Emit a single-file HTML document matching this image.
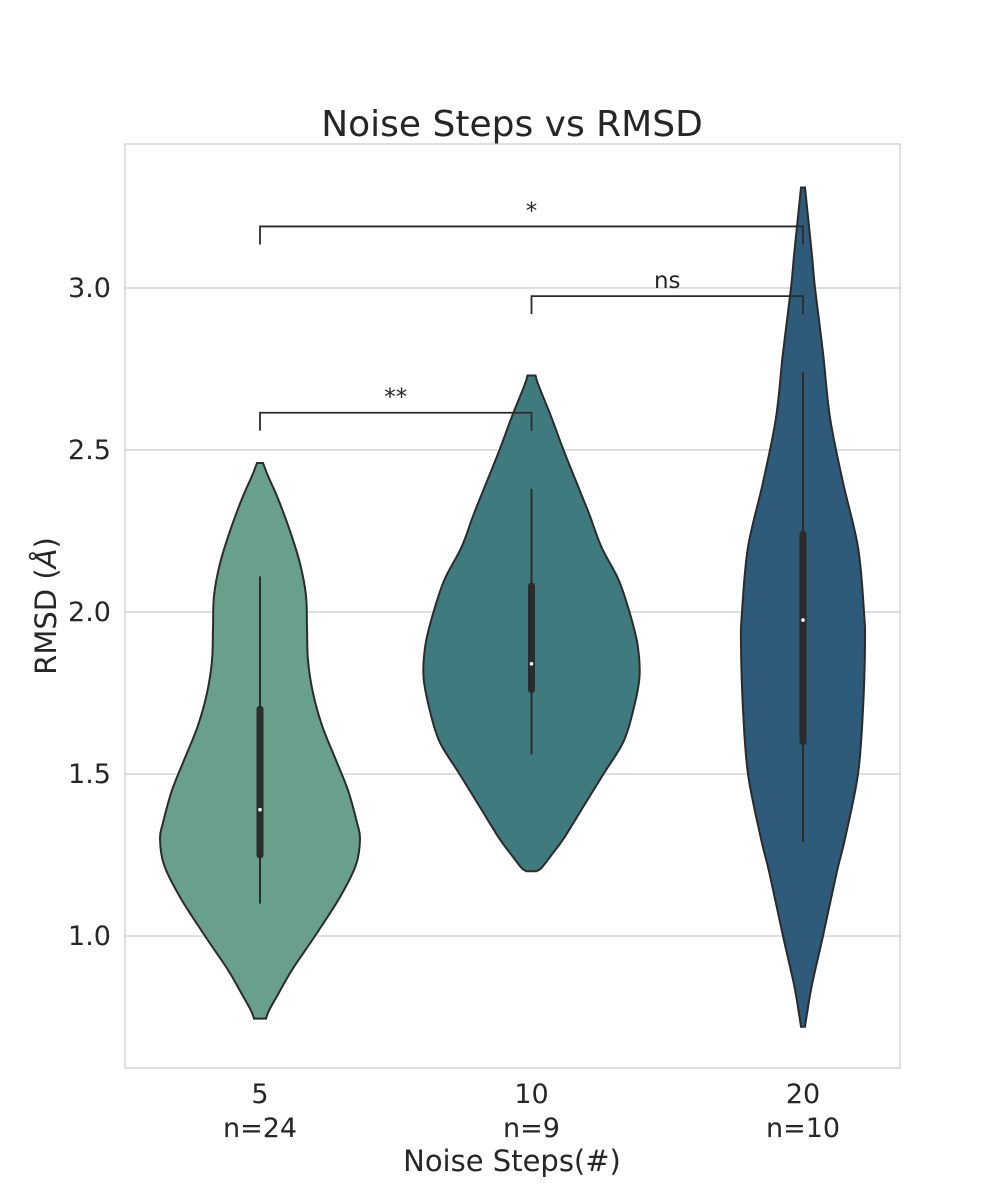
<!DOCTYPE html>
<html><head><meta charset="utf-8"><style>
body{margin:0;background:#fff;}
svg{display:block;font-family:"DejaVu Sans","Liberation Sans",sans-serif;}
</style></head><body>
<svg id="chart" width="1000" height="1200">
<rect x="125" y="144" width="775" height="924" fill="#fff" stroke="#cccccc" stroke-width="1.2"/>
<g id="grid"></g><g id="viol"></g><g id="ann"></g><g id="axes"></g>
<text x="512" y="136" font-size="36" text-anchor="middle" fill="#262626">Noise Steps vs RMSD</text>
<text x="512" y="1171" font-size="29" text-anchor="middle" fill="#262626">Noise Steps(#)</text>
<text transform="translate(56,606) rotate(-90)" font-size="29" text-anchor="middle" fill="#262626">RMSD (<tspan font-style="italic">Å</tspan>)</text>
</svg>
<script>
const categories=["5","10","20"];
const counts=[24,9,10];
const yTicks=[1.0,1.5,2.0,2.5,3.0];
const colors=["#69a08c","#3f7a7f","#2d5b79"];
const densV0=[2.46,2.42,2.35,2.25,2.15,2.05,1.95,1.85,1.75,1.65,1.55,1.45,1.35,1.30,1.22,1.12,1.0,0.9,0.82,0.77,0.745];
const densW0=[3,8,18,30,40,46,47,48,53,62,75,88,97,100,96,80,55,33,18,9,6];
const densV1=[2.73,2.70,2.6,2.5,2.4,2.3,2.2,2.1,2.0,1.9,1.8,1.7,1.6,1.5,1.4,1.3,1.25,1.21,1.20];
const densW1=[4,7,20,32,45,58,70,87,98,106,108,102,92,72,52,32,20,10,5];
const densV2=[3.31,3.25,3.1,3.0,2.8,2.6,2.4,2.2,2.0,1.9,1.7,1.5,1.3,1.2,1.0,0.85,0.76,0.72];
const densW2=[2,4,9,12,20,27,40,55,61,62,60,55,42,34,20,9,4,2];
const q1=[1.25,1.76,1.60], q3=[1.70,2.08,2.24], med=[1.39,1.84,1.975];
const whLo=[1.10,1.56,1.29], whHi=[2.11,2.38,2.74];
const pairs=[[0,2,3.19,"*"],[1,2,2.975,"ns"],[0,1,2.615,"**"]];
const dens=[[densV0,densW0],[densV1,densW1],[densV2,densW2]];
const NS="http://www.w3.org/2000/svg";
const yS=v=>936-(v-1)*324;
const xS=i=>260+i*271.5;
function mk(t,a,p){const e=document.createElementNS(NS,t);for(const k in a)e.setAttribute(k,a[k]);p.appendChild(e);return e;}
const G=document.getElementById('grid'),V=document.getElementById('viol'),A=document.getElementById('ann'),X=document.getElementById('axes');
yTicks.forEach(t=>{
 const l=mk('line',{x1:125,x2:900,y1:yS(t),y2:yS(t),stroke:'#cccccc','stroke-width':1.2},G);
 
 
 const tx=mk('text',{x:111,y:yS(t)+9,'font-size':27,'text-anchor':'end',fill:'#262626'},X);
 tx.textContent=t.toFixed(1);
 
 
});
function smooth(pts){let d='M'+pts[0][0]+','+pts[0][1];
 for(let i=0;i<pts.length-1;i++){const p0=pts[Math.max(i-1,0)],p1=pts[i],p2=pts[i+1],p3=pts[Math.min(i+2,pts.length-1)];
  d+=' C'+(p1[0]+(p2[0]-p0[0])/6)+','+(p1[1]+(p2[1]-p0[1])/6)+' '+(p2[0]-(p3[0]-p1[0])/6)+','+(p2[1]-(p3[1]-p1[1])/6)+' '+p2[0]+','+p2[1];}
 return d;}
categories.forEach((c,i)=>{
 const cx=xS(i),[vs,ws]=dens[i];
 const right=vs.map((v,k)=>[cx+ws[k],yS(v)]);
 const left=vs.map((v,k)=>[cx-ws[k],yS(v)]).reverse();
 let d=smooth(right)+' L'+left[0][0]+','+left[0][1]+smooth(left).replace(/^M[^ C]+/,'')+' Z';
 const p=mk('path',{d:d,fill:colors[i],stroke:'#2b2b2b','stroke-width':2},V);
 
 
 const w=mk('line',{x1:cx,x2:cx,y1:yS(whLo[i]),y2:yS(whHi[i]),stroke:'#2b2b2b','stroke-width':2},V);
 
 
 const b=mk('line',{x1:cx,x2:cx,y1:yS(q1[i]),y2:yS(q3[i]),stroke:'#2b2b2b','stroke-width':7,'stroke-linecap':'round'},V);
 
 
 const m=mk('circle',{cx:cx,cy:yS(med[i]),r:1.8,fill:'#fff'},V);
 
 
 const t1=mk('text',{x:cx,y:1103,'font-size':27,'text-anchor':'middle',fill:'#262626'},X);
 t1.textContent=c;
 
 
 const t2=mk('text',{x:cx,y:1137,'font-size':27,'text-anchor':'middle',fill:'#262626'},X);
 t2.textContent='n='+counts[i];
 
 
});
pairs.forEach(([a,b,v,lab])=>{
 const y=yS(v),x1=xS(a),x2=xS(b);
 const p=mk('path',{d:`M${x1},${y+18} V${y} H${x2} V${y+18}`,fill:'none',stroke:'#2b2b2b','stroke-width':1.8},A);
 
 
 const t=mk('text',{x:(x1+x2)/2,y:y-8,'font-size':23,'text-anchor':'middle',fill:'#262626'},A);
 t.textContent=lab;
 
 
});
</script>
</body></html>
